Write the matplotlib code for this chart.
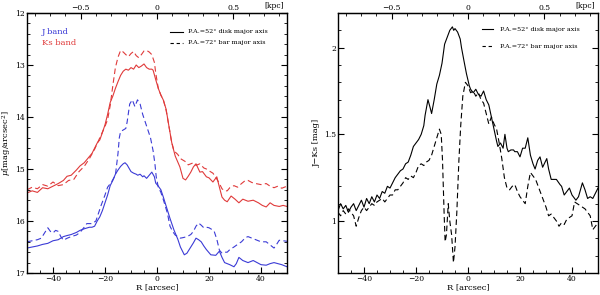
import numpy as np
import matplotlib
matplotlib.use("Agg")
import matplotlib.pyplot as plt
from matplotlib.ticker import MultipleLocator, FixedLocator

plt.rcParams["font.family"] = ["DejaVu Serif"]
plt.rcParams["mathtext.fontset"] = "dejavuserif"

# ---- left panel: surface brightness profiles ----
ks_disk_r = [-50, -48, -46, -44, -42, -40, -38, -36, -34.6, -33, -31, -29.6, -28, -26, -25, -23, -22, -21, -20,
             -19, -18, -17, -16, -15, -14, -13, -12, -11, -10, -9, -8, -7, -6, -5, -4, -3, -2, -1.5, -0.5,
             0.5, 1.5, 2.4, 3.5, 4.5, 5.7, 7, 8.8, 10, 11, 12, 13, 14, 15, 16.5, 17.5, 19, 20, 21.5, 23, 24,
             25, 26, 27, 28.5, 30, 31.5, 33, 35, 37, 39, 40.5, 42, 43.5, 45, 47, 48.5, 50]
ks_disk = [15.46, 15.42, 15.45, 15.36, 15.38, 15.33, 15.28, 15.22, 15.14, 15.12, 15.02, 14.94, 14.88, 14.76, 14.70,
           14.50, 14.44, 14.30, 14.15, 13.95, 13.72, 13.60, 13.45, 13.32, 13.20, 13.12, 13.08, 13.10, 13.05, 13.08,
           13.00, 13.05, 13.02, 12.98, 13.05, 13.08, 13.08, 13.10, 13.28, 13.45, 13.58, 13.67, 13.85, 14.15, 14.50,
           14.75, 14.96, 15.18, 15.21, 15.14, 15.06, 14.96, 14.90, 15.06, 15.05, 15.15, 15.17, 15.25, 15.15, 15.35,
           15.54, 15.60, 15.63, 15.52, 15.58, 15.65, 15.58, 15.62, 15.60, 15.65, 15.70, 15.73, 15.65, 15.70, 15.72,
           15.70, 15.72]

ks_bar_r = [-50, -48, -46, -44, -42, -40, -38, -36, -34, -32, -30, -28, -26, -24, -22, -20, -19, -18, -17, -16,
            -15, -14, -13, -12, -11, -10, -9, -8, -7, -6, -5, -4, -3, -2, -1, -0.5, 0.5, 1.5, 2.5, 3.5, 4.5,
            5.5, 6.5, 8, 9, 10, 11, 12, 13, 14, 15, 16.5, 18, 19, 20.5, 21.5, 22.5, 24, 25, 26, 27, 28, 29.6,
            31, 32.5, 34, 35, 36.5, 38, 40, 42, 43.5, 45, 46.5, 48, 50]
ks_bar = [15.40, 15.35, 15.38, 15.30, 15.33, 15.25, 15.32, 15.30, 15.22, 15.20, 15.05, 14.95, 14.80, 14.62, 14.40,
          14.18, 14.05, 13.78, 13.40, 13.05, 12.85, 12.72, 12.75, 12.80, 12.84, 12.78, 12.74, 12.82, 12.86, 12.80,
          12.73, 12.72, 12.75, 12.80, 12.95, 13.15, 13.45, 13.58, 13.68, 13.87, 14.15, 14.45, 14.65, 14.72, 14.80,
          14.83, 14.86, 14.92, 14.90, 14.88, 14.93, 14.90, 14.98, 15.00, 15.05, 15.08, 15.15, 15.28, 15.38, 15.42,
          15.42, 15.36, 15.32, 15.35, 15.28, 15.22, 15.22, 15.26, 15.28, 15.30, 15.28, 15.33, 15.36, 15.33, 15.37,
          15.33]

j_disk_r = [-50, -48, -46, -44, -42, -40, -38, -36, -34.6, -33, -31, -29.6, -28, -26, -25, -24, -23, -22, -21, -20,
            -19, -18, -17, -16, -15, -14, -13, -12.3, -11.5, -10, -9, -8, -7.4, -6.5, -5.5, -5, -4, -3, -2, -1,
            -0.5, 0.5, 1.5, 2.5, 4, 5, 6.5, 8, 9, 10.5, 11.5, 13, 14, 15, 16, 17, 18, 19, 20.7, 22.6, 24, 25, 26,
            28, 29.6, 30.5, 31.5, 33, 35, 37, 38.5, 40, 42, 43.5, 45, 46.5, 48, 50]
j_disk = [16.52, 16.50, 16.48, 16.45, 16.43, 16.38, 16.36, 16.30, 16.28, 16.26, 16.22, 16.18, 16.15, 16.12, 16.12,
          16.10, 16.00, 15.92, 15.80, 15.65, 15.50, 15.32, 15.22, 15.10, 15.02, 14.95, 14.90, 14.88, 14.92, 15.05,
          15.08, 15.10, 15.12, 15.10, 15.15, 15.13, 15.18, 15.12, 15.06, 15.15, 15.27, 15.33, 15.40, 15.55, 15.79,
          15.95, 16.17, 16.35, 16.50, 16.65, 16.62, 16.50, 16.42, 16.33, 16.36, 16.40, 16.48, 16.55, 16.65, 16.66,
          16.58, 16.70, 16.80, 16.84, 16.88, 16.82, 16.70, 16.76, 16.80, 16.76, 16.80, 16.84, 16.85, 16.82, 16.80,
          16.82, 16.84, 16.88]

j_bar_r = [-50, -48, -46, -44.5, -43.5, -42, -41, -40, -39, -38, -37, -36, -34.5, -33, -31, -29.6, -28, -27, -25,
           -23.5, -21.5, -20, -19, -17.5, -16, -15, -14.5, -14, -13, -12, -11.5, -10.5, -9.5, -8.5, -7.5, -6.5,
           -5.5, -4.5, -3.5, -2.5, -1.5, -0.8, -0.3, 0.5, 1.5, 2.5, 4, 5, 6, 7, 8, 9, 10, 11.6, 13, 14, 15, 16,
           17, 18, 19, 20, 21, 22, 23, 24, 25, 26, 27, 28, 29.6, 31, 32.5, 34, 35, 36.5, 38.5, 40, 42, 43.5, 45,
           46, 47, 48.5, 50]
j_bar = [16.40, 16.38, 16.36, 16.33, 16.25, 16.13, 16.20, 16.23, 16.18, 16.20, 16.30, 16.37, 16.33, 16.30, 16.27,
         16.22, 16.12, 16.05, 16.05, 16.00, 15.70, 15.50, 15.35, 15.25, 15.12, 14.70, 14.40, 14.28, 14.25, 14.22,
         14.10, 13.75, 13.67, 13.80, 13.67, 13.75, 13.95, 14.10, 14.25, 14.40, 14.65, 14.90, 15.15, 15.35, 15.45,
         15.60, 15.85, 16.10, 16.20, 16.27, 16.30, 16.33, 16.32, 16.30, 16.26, 16.20, 16.10, 16.04, 16.08, 16.13,
         16.12, 16.13, 16.16, 16.20, 16.35, 16.56, 16.62, 16.60, 16.60, 16.55, 16.50, 16.45, 16.40, 16.32, 16.30,
         16.33, 16.37, 16.40, 16.40, 16.46, 16.52, 16.45, 16.37, 16.38, 16.39]

# ---- right panel: J-Ks colour profiles ----
jk_disk_r = [-50, -49, -48, -47, -46, -45, -44, -43, -42, -41, -40, -39, -38, -37, -36, -35, -34, -33, -32, -31,
             -30, -29, -28, -27, -26, -25, -24, -23, -22, -21, -20, -19, -18, -17, -16.5, -15.4, -14.5, -14, -13,
             -12, -11, -10, -9, -8, -7, -6, -5.5, -5, -4, -3, -2.5, -1.5, -0.6, 0.5, 1, 2, 3, 4, 5, 6, 7, 8, 9,
             10, 11, 11.5, 12.5, 13.5, 14.2, 15, 15.5, 16.5, 17.5, 18, 19, 20, 21, 22, 23, 24, 25, 25.8, 26.8,
             27.7, 28.7, 30.3, 31, 32, 33, 34, 35.4, 36, 37, 38, 39, 40, 41.5, 42.5, 44, 45, 46, 47, 48, 49, 50]
jk_disk = [1.06, 1.10, 1.07, 1.09, 1.05, 1.08, 1.10, 1.06, 1.09, 1.12, 1.08, 1.13, 1.10, 1.14, 1.11, 1.15, 1.13,
           1.17, 1.16, 1.20, 1.19, 1.22, 1.25, 1.27, 1.29, 1.30, 1.33, 1.34, 1.38, 1.43, 1.45, 1.47, 1.50, 1.55,
           1.61, 1.70, 1.65, 1.62, 1.70, 1.79, 1.84, 1.91, 2.02, 2.06, 2.10, 2.12, 2.10, 2.11, 2.09, 2.05, 2.00,
           1.92, 1.85, 1.78, 1.76, 1.74, 1.76, 1.73, 1.72, 1.75, 1.70, 1.67, 1.60, 1.53, 1.46, 1.43, 1.45, 1.42,
           1.50, 1.42, 1.40, 1.41, 1.41, 1.40, 1.40, 1.37, 1.42, 1.42, 1.48, 1.38, 1.33, 1.30, 1.35, 1.37, 1.31,
           1.36, 1.30, 1.24, 1.24, 1.24, 1.21, 1.20, 1.15, 1.17, 1.19, 1.15, 1.12, 1.14, 1.22, 1.18, 1.13, 1.14,
           1.13, 1.16, 1.19]

jk_bar_r = [-50, -49, -48, -47, -46, -45, -44, -43, -42, -41, -40, -39, -38, -37, -36, -35, -34, -33, -32, -31,
            -30, -29, -28, -27, -26, -25, -24, -23, -22, -21, -20, -19, -18, -17, -16, -15, -14, -13, -12, -11,
            -10.3, -9.8, -9.2, -8.8, -8.3, -7.6, -7, -6.3, -5.6, -5, -4.3, -3.5, -2.8, -2, -1, 0, 1, 2, 3, 4, 5,
            6, 7, 8, 9, 10, 11, 12, 13, 14, 15, 16, 17, 18, 19, 20, 21, 22, 23, 24, 25, 26, 27, 28, 29, 30, 31,
            32, 33, 34, 35, 36, 37, 38, 39, 40, 41, 42, 43, 44, 45, 46, 47, 48, 49, 50]
jk_bar = [1.05, 1.03, 1.06, 1.04, 1.07, 1.05, 1.03, 0.97, 1.02, 1.06, 1.08, 1.06, 1.08, 1.10, 1.09, 1.11, 1.12,
          1.13, 1.11, 1.13, 1.15, 1.15, 1.18, 1.18, 1.20, 1.22, 1.25, 1.24, 1.26, 1.25, 1.28, 1.32, 1.33, 1.32,
          1.34, 1.35, 1.38, 1.43, 1.48, 1.53, 1.50, 1.35, 1.05, 0.88, 0.92, 1.10, 1.00, 0.92, 0.76, 0.85, 1.05,
          1.35, 1.55, 1.72, 1.80, 1.78, 1.74, 1.75, 1.72, 1.74, 1.70, 1.68, 1.62, 1.56, 1.60, 1.56, 1.53, 1.45,
          1.36, 1.25, 1.19, 1.18, 1.20, 1.21, 1.17, 1.14, 1.12, 1.10, 1.20, 1.28, 1.26, 1.24, 1.20, 1.16, 1.12,
          1.08, 1.03, 1.04, 1.02, 1.00, 0.97, 0.99, 0.98, 1.01, 1.02, 1.03, 1.11, 1.10, 1.09, 1.08, 1.07, 1.05,
          1.03, 0.95, 0.97, 0.99]

kpc_ticks = [-0.5, 0, 0.5]
kpc_minor = [-0.8, -0.7, -0.6, -0.4, -0.3, -0.2, -0.1, 0.1, 0.2, 0.3, 0.4, 0.6, 0.7, 0.8]
kpc_per_arcsec = 0.017
red = "#e03a3a"
blue = "#3b3bd6"
lw = 0.8
tick_fs = 5.5

fig = plt.figure(figsize=(6.0, 2.95), dpi=100)
ax1 = fig.add_axes([27 / 600, 22 / 295, 260 / 600, 260 / 295])
ax2 = fig.add_axes([338 / 600, 22 / 295, 260 / 600, 260 / 295])


def minus(v, p):
    return "0" if abs(v) < 1e-9 else f"{v:g}".replace("-", "\u2212")


def style(ax):
    ax.set_xlim(-50, 50)
    ax.xaxis.set_major_locator(MultipleLocator(20))
    ax.xaxis.set_minor_locator(MultipleLocator(5))
    ax.xaxis.set_major_formatter(plt.FuncFormatter(minus))
    ax.tick_params(which="both", direction="in", top=False, right=True, labelsize=tick_fs, pad=1.5)
    ax.tick_params(which="major", length=4, width=0.8)
    ax.tick_params(which="minor", length=2, width=0.6)
    for s in ax.spines.values():
        s.set_linewidth(1.0)
    ax.set_xlabel("R [arcsec]", fontsize=6, labelpad=0)
    top = ax.secondary_xaxis("top", functions=(lambda r: r * kpc_per_arcsec, lambda k: k / kpc_per_arcsec))
    top.xaxis.set_major_locator(FixedLocator(kpc_ticks))
    top.xaxis.set_minor_locator(FixedLocator(kpc_minor))
    top.xaxis.set_major_formatter(plt.FuncFormatter(minus))
    top.tick_params(which="both", direction="in", labelsize=tick_fs, pad=1.0)
    top.tick_params(which="major", length=4, width=0.8)
    top.tick_params(which="minor", length=2, width=0.6)
    ax.text(0.99, 1.01, "[kpc]", transform=ax.transAxes, ha="right", va="bottom", fontsize=tick_fs)


def legend(ax, x0, x1, xt, y1, y2):
    ax.plot([x0, x1], [y1, y1], color="k", lw=0.8, transform=ax.transAxes)
    ax.plot([x0, x1], [y2, y2], color="k", lw=0.8, ls=(0, (3, 2.5)), transform=ax.transAxes)
    ax.text(xt, y1, "P.A.=52\u00b0 disk major axis", transform=ax.transAxes, fontsize=4.6, va="center")
    ax.text(xt, y2, "P.A.=72\u00b0 bar major axis", transform=ax.transAxes, fontsize=4.6, va="center")


# left panel
ax1.plot(ks_disk_r, ks_disk, color=red, lw=lw)
ax1.plot(ks_bar_r, ks_bar, color=red, lw=lw, ls=(0, (5, 3)))
ax1.plot(j_disk_r, j_disk, color=blue, lw=lw)
ax1.plot(j_bar_r, j_bar, color=blue, lw=lw, ls=(0, (5, 3)))
ax1.set_ylim(17, 12)
ax1.yaxis.set_major_locator(MultipleLocator(1))
ax1.yaxis.set_minor_locator(MultipleLocator(0.2))
style(ax1)
ax1.set_ylabel(r"$\mu$[mag/arcsec$^2$]", fontsize=6, labelpad=1)
ax1.text(0.058, 0.927, "J band", color=blue, transform=ax1.transAxes, fontsize=6, va="center")
ax1.text(0.058, 0.885, "Ks band", color=red, transform=ax1.transAxes, fontsize=6, va="center")
legend(ax1, 0.55, 0.60, 0.62, 0.927, 0.885)

# right panel
ax2.plot(jk_disk_r, jk_disk, color="k", lw=lw)
ax2.plot(jk_bar_r, jk_bar, color="k", lw=lw, ls=(0, (5, 3)))
ax2.set_ylim(0.7, 2.2)
ax2.yaxis.set_major_locator(MultipleLocator(0.5))
ax2.yaxis.set_minor_locator(MultipleLocator(0.1))
ax2.yaxis.set_major_formatter(plt.FuncFormatter(lambda v, p: f"{v:g}"))
style(ax2)
ax2.set_ylabel("J\u2212Ks [mag]", fontsize=6, labelpad=2)
legend(ax2, 0.554, 0.596, 0.623, 0.938, 0.873)

fig.savefig("out.png", dpi=100)
